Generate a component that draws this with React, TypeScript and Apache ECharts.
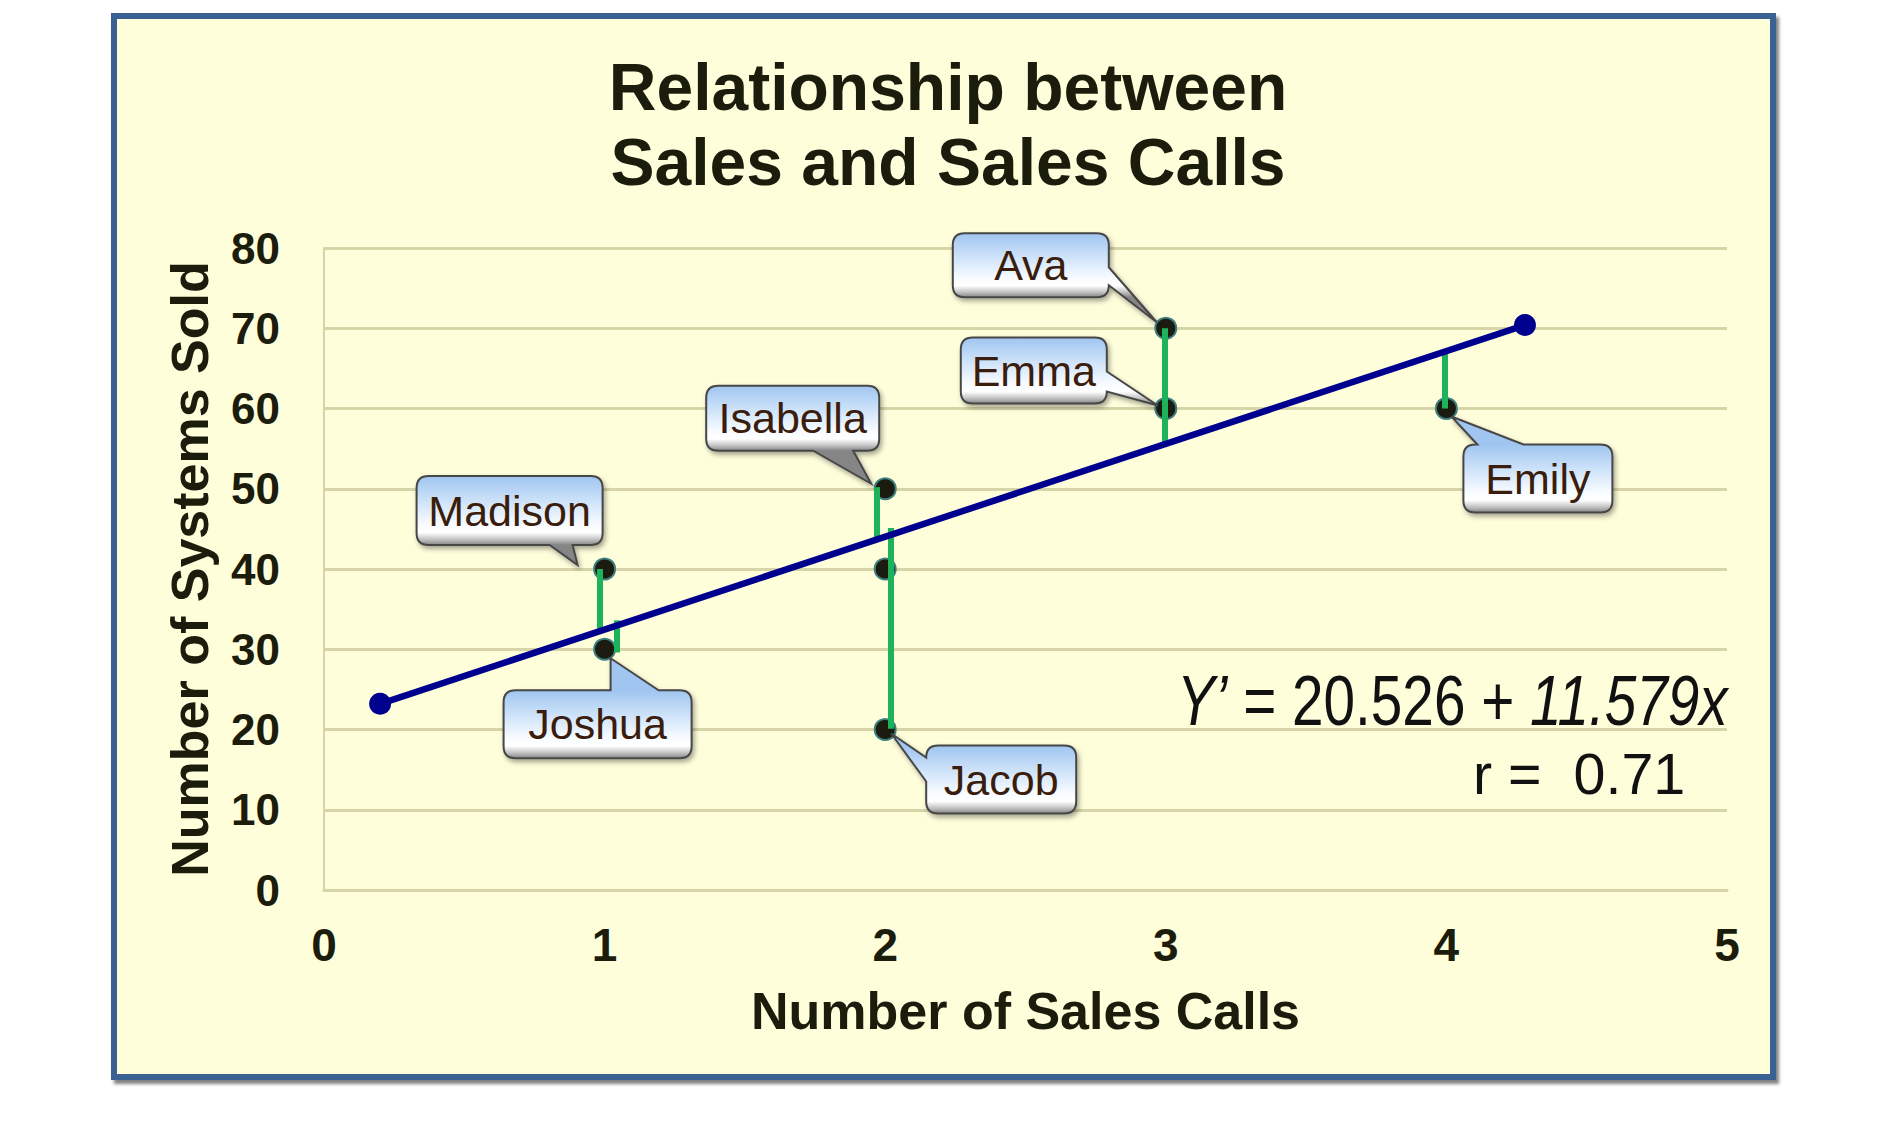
import React, { useEffect, useRef } from 'react';
import * as echarts from 'echarts';

// ---- data ----
const callsX = [1, 1, 2, 2, 2, 3, 3, 4];
const systemsY = [40, 30, 50, 40, 20, 70, 60, 60];
const pointNames = ['Madison', 'Joshua', 'Isabella', '', 'Jacob', 'Ava', 'Emma', 'Emily'];

const fitLineX = [0.2, 4.28];
const fitLineY = [23.2, 70.4];

const residualX = [0.983, 1.044, 1.969, 2.021, 2.995, 3.995];
const residualFrom = [40, 29.6, 50.2, 20.1, 70, 60];
const residualTo = [32.3, 33.6, 43.8, 45.1, 55.6, 67.2];

const xTickLabels = ['0', '1', '2', '3', '4', '5'];
const yTickLabels = ['0', '10', '20', '30', '40', '50', '60', '70', '80'];

const titleText = 'Relationship between\nSales and Sales Calls';
const xAxisTitle = 'Number of Sales Calls';
const yAxisTitle = 'Number of Systems Sold';
const equationText = '{it|Y’} = 20.526 + {it|11.579x}';
const rText = 'r =  0.71';

// ---- styling / layout of callouts (pixel offsets from the point) ----
const bubbleLayout: Record<string, any> = {
  Madison: { left: -188, top: -93, w: 186, h: 69, side: 'bottom', a: 133, b: 156, tipX: -27, tipY: -4 },
  Joshua: { left: -101, top: 41, w: 188, h: 68, side: 'top', a: 107, b: 155, tipX: 6, tipY: 9 },
  Isabella: { left: -179, top: -103, w: 173, h: 65, side: 'bottom', a: 107, b: 147, tipX: -14, tipY: -5 },
  Jacob: { left: 41, top: 16, w: 150, h: 68, side: 'left', a: 12, b: 36, tipX: 6, tipY: 4 },
  Ava: { left: -213, top: -95, w: 156, h: 64, side: 'right', a: 34, b: 52, tipX: -9, tipY: -6 },
  Emma: { left: -205, top: -71, w: 146, h: 66, side: 'right', a: 34, b: 54, tipX: -8, tipY: -3 },
  Emily: { left: 17, top: 36, w: 149, h: 68, side: 'top', a: 14, b: 60, tipX: 5, tipY: 8 },
};

const FONT = 'Liberation Sans';
const INK = '#1c1c0c';
const GRIDC = '#d7d4a8';

function bubblePath(L: number, T: number, W: number, H: number, r: number, side: string, a: number, b: number, tx: number, ty: number) {
  const R = L + W, B = T + H;
  let d = `M${L + r} ${T}`;
  if (side === 'top') d += ` L${L + a} ${T} L${tx} ${ty} L${L + b} ${T}`;
  d += ` L${R - r} ${T} Q${R} ${T} ${R} ${T + r}`;
  if (side === 'right') d += ` L${R} ${T + a} L${tx} ${ty} L${R} ${T + b}`;
  d += ` L${R} ${B - r} Q${R} ${B} ${R - r} ${B}`;
  if (side === 'bottom') d += ` L${L + b} ${B} L${tx} ${ty} L${L + a} ${B}`;
  d += ` L${L + r} ${B} Q${L} ${B} ${L} ${B - r}`;
  if (side === 'left') d += ` L${L} ${T + b} L${tx} ${ty} L${L} ${T + a}`;
  d += ` L${L} ${T + r} Q${L} ${T} ${L + r} ${T} Z`;
  return d;
}

function buildOption() {
  const points = callsX.map((x, i) => [x, systemsY[i]]);
  const labelled = callsX
    .map((x, i) => [x, systemsY[i], i])
    .filter((d) => pointNames[d[2] as number] !== '');
  const residualLines = residualX.map((x, i) => ({
    coords: [
      [x, residualFrom[i]],
      [x, residualTo[i]],
    ],
  }));
  const fitLine = fitLineX.map((x, i) => [x, fitLineY[i]]);

  return {
    animation: false,
    textStyle: { fontFamily: FONT },
    title: {
      text: titleText,
      left: 'center',
      top: 49,
      padding: 0,
      textStyle: {
        fontSize: 66,
        fontWeight: 'bold',
        color: INK,
        lineHeight: 75,
        fontFamily: FONT,
      },
    },
    grid: { left: 324, right: 169, top: 248, bottom: 242 },
    xAxis: {
      type: 'value',
      min: 0,
      max: 5,
      interval: 1,
      name: xAxisTitle,
      nameLocation: 'middle',
      nameGap: 95,
      nameTextStyle: { fontSize: 52, fontWeight: 'bold', color: INK, fontFamily: FONT },
      axisLine: { show: true, lineStyle: { color: GRIDC, width: 3 } },
      axisTick: { show: false },
      splitLine: { show: false },
      axisLabel: {
        fontSize: 46,
        fontWeight: 'bold',
        color: INK,
        margin: 32,
        fontFamily: FONT,
        formatter: (v: number) => xTickLabels[Math.round(v)] ?? String(v),
      },
    },
    yAxis: {
      type: 'value',
      min: 0,
      max: 80,
      interval: 10,
      name: yAxisTitle,
      nameLocation: 'middle',
      nameRotate: 90,
      nameGap: 108,
      nameTextStyle: { fontSize: 52, fontWeight: 'bold', color: INK, fontFamily: FONT },
      axisLine: { show: true, lineStyle: { color: GRIDC, width: 2 } },
      axisTick: { show: false },
      splitLine: { show: true, lineStyle: { color: GRIDC, width: 3 } },
      axisLabel: {
        fontSize: 44,
        fontWeight: 'bold',
        color: INK,
        margin: 44,
        fontFamily: FONT,
        formatter: (v: number) => yTickLabels[Math.round(v / 10)] ?? String(v),
      },
    },
    graphic: [
      {
        type: 'text',
        x: 1177,
        y: 700,
        scaleX: 0.81,
        z: 10,
        style: {
          text: equationText,
          fontSize: 70,
          fontFamily: FONT,
          fill: '#111111',
          align: 'left',
          verticalAlign: 'middle',
          rich: {
            it: { fontStyle: 'italic', fontSize: 70, fontFamily: FONT, fill: '#111111' },
          },
        },
      },
      {
        type: 'text',
        x: 1473,
        y: 774,
        scaleX: 0.99,
        z: 10,
        style: {
          text: rText,
          fontSize: 58,
          fontFamily: FONT,
          fill: '#111111',
          align: 'left',
          verticalAlign: 'middle',
        },
      },
    ],
    series: [
      {
        type: 'scatter',
        data: points,
        symbol: 'circle',
        symbolSize: 21,
        z: 2,
        itemStyle: { color: '#1b1b10', borderColor: '#3f8080', borderWidth: 2, opacity: 1 },
      },
      {
        type: 'lines',
        coordinateSystem: 'cartesian2d',
        data: residualLines,
        z: 3,
        lineStyle: { color: '#1db35a', width: 6, opacity: 1, curveness: 0 },
      },
      {
        type: 'line',
        data: fitLine,
        z: 4,
        symbol: 'circle',
        symbolSize: 22,
        showSymbol: true,
        lineStyle: { color: '#00008f', width: 6.5 },
        itemStyle: { color: '#00008f' },
      },
      {
        type: 'custom',
        z: 6,
        clip: false,
        data: labelled,
        renderItem: (params: any, api: any) => {
          const idx = api.value(2);
          const name = pointNames[idx];
          const lay = bubbleLayout[name];
          const p = api.coord([api.value(0), api.value(1)]);
          const L = p[0] + lay.left;
          const T = p[1] + lay.top;
          const d = bubblePath(L, T, lay.w, lay.h, 12, lay.side, lay.a, lay.b, p[0] + lay.tipX, p[1] + lay.tipY);
          const fill = new echarts.graphic.LinearGradient(
            0, T, 0, T + lay.h,
            [
              { offset: 0, color: '#9fc5f0' },
              { offset: 0.4, color: '#d2e5fa' },
              { offset: 0.7, color: '#f8fbff' },
              { offset: 0.82, color: '#ffffff' },
              { offset: 0.92, color: '#c2c2c2' },
              { offset: 1, color: '#858585' },
            ],
            true
          );
          return {
            type: 'group',
            children: [
              {
                type: 'path',
                shape: { pathData: d },
                style: {
                  fill,
                  stroke: '#474747',
                  lineWidth: 2,
                  shadowBlur: 5,
                  shadowOffsetX: 2,
                  shadowOffsetY: 3,
                  shadowColor: 'rgba(0,0,0,0.35)',
                },
              },
              {
                type: 'text',
                style: {
                  text: name,
                  x: L + lay.w / 2,
                  y: T + lay.h / 2,
                  align: 'center',
                  verticalAlign: 'middle',
                  fill: '#3a1d0c',
                  fontSize: 43,
                  fontFamily: FONT,
                },
              },
            ],
          };
        },
      },
    ],
  };
}

export default function App() {
  const ref = useRef<HTMLDivElement>(null);
  useEffect(() => {
    const chart = echarts.init(ref.current!, null, { renderer: 'svg' });
    chart.setOption(buildOption() as any);
    return () => chart.dispose();
  }, []);
  return (
    <div style={{ position: 'absolute', left: 0, top: 0, width: 1896, height: 1132, background: '#ffffff' }}>
      <div
        style={{
          position: 'absolute',
          left: 111,
          top: 13,
          width: 1665,
          height: 1067,
          boxSizing: 'border-box',
          border: '6px solid #3b6193',
          background: '#fffedb',
          boxShadow: '3px 4px 3px rgba(90,90,90,0.75)',
        }}
      />
      <div ref={ref} style={{ position: 'absolute', left: 0, top: 0, width: 1896, height: 1132 }} />
    </div>
  );
}
